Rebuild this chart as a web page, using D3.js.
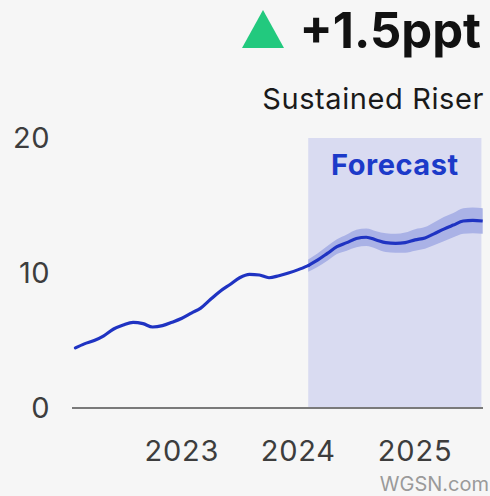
<html>
	<head>
		<meta charset="utf-8">
		<script src="https://d3js.org/d3.v7.min.js"></script>
		<style>
			body { margin: 0; background: #f6f6f6; }
			text { font-family: Inter, "Noto Sans", sans-serif; }
		</style>
	</head>
	<body>
		<div id="chart"></div>
		<script>

	// monthly series, Feb 2022 .. Feb 2024 (actual)
	var actualMonths = ["2022-02","2022-03","2022-04","2022-05","2022-06","2022-07","2022-08","2022-09","2022-10","2022-11","2022-12",
		"2023-01","2023-02","2023-03","2023-04","2023-05","2023-06","2023-07","2023-08","2023-09","2023-10","2023-11","2023-12",
		"2024-01","2024-02"];
	var actualValues = [4.45, 4.75, 5.0, 5.35, 5.85, 6.15, 6.35, 6.25, 6.0, 6.1, 6.35,
		6.65, 7.05, 7.4, 8.05, 8.65, 9.15, 9.65, 9.9, 9.85, 9.65, 9.8, 10.0,
		10.25, 10.55];

	// forecast, Feb 2024 .. Aug 2025
	var forecastMonths = ["2024-02","2024-03","2024-04","2024-05","2024-06","2024-07","2024-08","2024-09","2024-10","2024-11","2024-12",
		"2025-01","2025-02","2025-03","2025-04","2025-05","2025-06","2025-07","2025-08"];
	var forecastValues = [10.55, 10.95, 11.45, 11.95, 12.25, 12.55, 12.65, 12.45, 12.25, 12.2, 12.25,
		12.45, 12.6, 12.9, 13.25, 13.55, 13.85, 13.9, 13.85];
	var forecastLow = [10.1, 10.45, 10.9, 11.4, 11.65, 11.9, 12.0, 11.8, 11.55, 11.5, 11.5,
		11.65, 11.8, 12.05, 12.35, 12.65, 12.9, 12.95, 12.9];
	var forecastHigh = [11.0, 11.45, 12.0, 12.5, 12.85, 13.2, 13.3, 13.1, 12.95, 12.9, 13.0,
		13.25, 13.4, 13.75, 14.15, 14.45, 14.8, 14.85, 14.8];

	var forecastSpan = ["2024-02-01", "2025-07-28"];
	var yTicks = [0, 10, 20];
	var xTicks = ["2023-01-01", "2024-01-01", "2025-01-01"];

	var headline = "+1.5ppt";
	var subhead = "Sustained Riser";

	var width = 490, height = 496;
	var parseMonth = d3.timeParse("%Y-%m");
	var parseDay = d3.timeParse("%Y-%m-%d");

	var svg = d3.select("#chart").append("svg")
		.attr("width", width)
		.attr("height", height);

	svg.append("rect")
		.attr("width", width)
		.attr("height", height)
		.attr("fill", "#f6f6f6");

	var x = d3.scaleTime()
		.domain([parseDay("2022-01-01"), parseDay("2026-01-01")])
		.range([65.5, 531.5]);
	var y = d3.scaleLinear()
		.domain([0, 20])
		.range([408, 138]);

	// forecast shading
	svg.append("rect")
		.attr("x", x(parseDay(forecastSpan[0])))
		.attr("y", y(20))
		.attr("width", x(parseDay(forecastSpan[1])) - x(parseDay(forecastSpan[0])))
		.attr("height", y(0) - y(20))
		.attr("fill", "#d9dbf1");

	// baseline
	svg.append("line")
		.attr("x1", 72)
		.attr("x2", 483)
		.attr("y1", y(0))
		.attr("y2", y(0))
		.attr("stroke", "#7a7a7a")
		.attr("stroke-width", 2);

	// y tick labels
	svg.selectAll(".ylab")
		.data(yTicks)
		.enter().append("text")
		.attr("class", "ylab")
		.attr("x", 50)
		.attr("y", function(d){ return y(d); })
		.attr("dy", "0.36em")
		.attr("text-anchor", "end")
		.attr("fill", "#3d3d3d")
		.style("font-size", "29px")
		.style("letter-spacing", "0.5px")
		.text(function(d){ return d; });

	// x tick labels
	svg.selectAll(".xlab")
		.data(xTicks)
		.enter().append("text")
		.attr("class", "xlab")
		.attr("x", function(d){ return x(parseDay(d)); })
		.attr("y", 461)
		.attr("text-anchor", "middle")
		.attr("fill", "#3d3d3d")
		.style("font-size", "29px")
		.style("letter-spacing", "0.8px")
		.text(function(d){ return d3.timeFormat("%Y")(parseDay(d)); });

	// forecast uncertainty band
	var fc = forecastMonths.map(function(m, i){
		return { date: parseMonth(m), v: forecastValues[i], lo: forecastLow[i], hi: forecastHigh[i] };
	});
	svg.append("path")
		.datum(fc)
		.attr("fill", "#aab2e6")
		.attr("d", d3.area()
			.curve(d3.curveMonotoneX)
			.x(function(d){ return x(d.date); })
			.y0(function(d){ return y(d.lo); })
			.y1(function(d){ return y(d.hi); }));

	var line = d3.line()
		.curve(d3.curveMonotoneX)
		.x(function(d){ return x(d.date); })
		.y(function(d){ return y(d.v); });

	var actual = actualMonths.map(function(m, i){
		return { date: parseMonth(m), v: actualValues[i] };
	});

	svg.append("path")
		.datum(actual)
		.attr("fill", "none")
		.attr("stroke", "#1f33c2")
		.attr("stroke-width", 3.2)
		.attr("stroke-linecap", "round")
		.attr("d", line);

	svg.append("path")
		.datum(fc)
		.attr("fill", "none")
		.attr("stroke", "#1f33c2")
		.attr("stroke-width", 3.2)
		.attr("d", line);

	// "Forecast" label
	svg.append("text")
		.attr("x", x(parseDay(forecastSpan[0])) + (x(parseDay(forecastSpan[1])) - x(parseDay(forecastSpan[0]))) / 2)
		.attr("y", 175)
		.attr("text-anchor", "middle")
		.attr("fill", "#1c3ac9")
		.style("font-size", "29px")
		.style("font-weight", 700)
		.style("letter-spacing", "0.5px")
		.text("Forecast");

	// header
	svg.append("path")
		.attr("d", "M242,48 L263,10 L284,48 Z")
		.attr("fill", "#22c97e");

	svg.append("text")
		.attr("x", 481)
		.attr("y", 48)
		.attr("text-anchor", "end")
		.attr("fill", "#111")
		.style("font-size", "49px")
		.style("font-weight", 700)
		.text(headline);

	svg.append("text")
		.attr("x", 484)
		.attr("y", 109)
		.attr("text-anchor", "end")
		.attr("fill", "#1a1a1a")
		.style("font-size", "29px")
		.style("letter-spacing", "0.6px")
		.text(subhead);

	// watermark
	svg.append("text")
		.attr("x", 489)
		.attr("y", 491)
		.attr("text-anchor", "end")
		.attr("fill", "#9a9a9a")
		.style("font-size", "20px")
		.text("WGSN.com");

		</script>
	</body>
</html>
